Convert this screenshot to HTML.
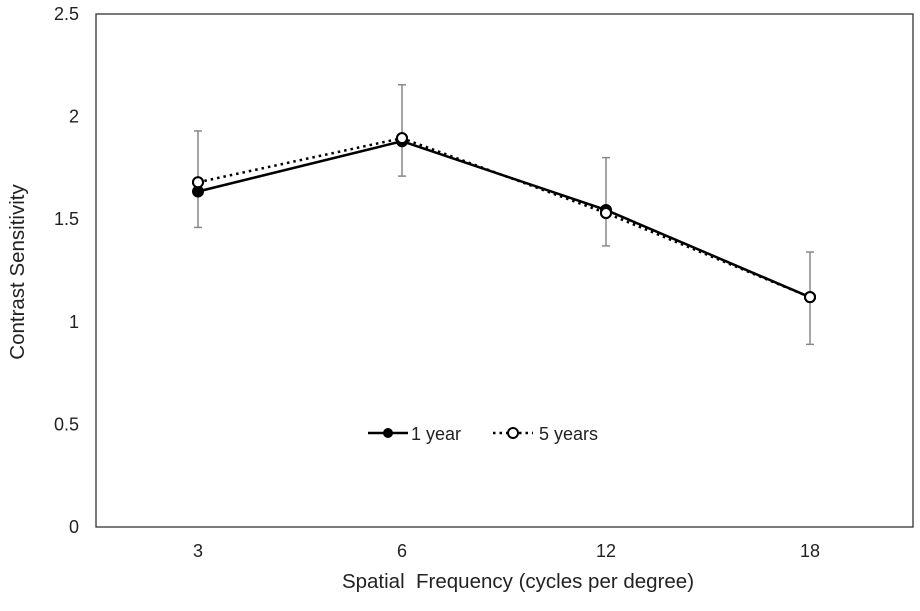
<!DOCTYPE html>
<html><head><meta charset="utf-8"><style>
html,body{margin:0;padding:0;background:#fff;}
svg text{font-family:"Liberation Sans","DejaVu Sans",sans-serif;fill:#222;}
</style></head><body>
<svg id="chart" width="920" height="606" viewBox="0 0 920 606" xmlns="http://www.w3.org/2000/svg">
<rect x="96" y="14" width="817" height="513" fill="none" stroke="#333" stroke-width="1.3"/>
<g id="yticks"></g><g id="xticks"></g><g id="errs"></g><g id="series"></g>
<text x="24" y="272" font-size="20.5" text-anchor="middle" transform="rotate(-90 24 272)">Contrast Sensitivity</text>
<text x="518" y="588" font-size="20.5" text-anchor="middle">Spatial&#160; Frequency (cycles per degree)</text>
<g>
<g>
<line x1="368" y1="433" x2="408" y2="433" stroke="#000" stroke-width="2.5"/>
<circle cx="388" cy="433" r="5" fill="#000"/>
<text x="411" y="440" font-size="18">1 year</text></g>
<g>
<line x1="493" y1="433" x2="533" y2="433" stroke="#000" stroke-width="2.5" stroke-dasharray="2.5,4"/>
<circle cx="513" cy="433" r="5" fill="#fff" stroke="#000" stroke-width="2"/>
<text x="539" y="440" font-size="18">5 years</text></g>
</g>
</svg>
<script>
const categories=["3","6","12","18"];
const oneYear=[1.635,1.88,1.545,1.12];
const fiveYears=[1.68,1.895,1.53,1.12];
const errTop=[1.93,2.155,1.80,1.34];
const errBottom=[1.46,1.71,1.37,0.89];
const yTickLabels=["0","0.5","1","1.5","2","2.5"];
const yTickValues=[0,0.5,1,1.5,2,2.5];
const NS="http://www.w3.org/2000/svg";
const x0=96,bw=204,yb=527,ypu=205.2;
const xs=i=>x0+bw*(i+0.5);
const ys=v=>yb-v*ypu;
function mk(tag,attrs,parent,txt){const e=document.createElementNS(NS,tag);for(const k in attrs)e.setAttribute(k,attrs[k]);if(txt!==undefined)e.textContent=txt;document.getElementById(parent).appendChild(e);return e;}
yTickValues.forEach((v,i)=>{const t=mk("text",{x:79,y:ys(v)+6,"font-size":18,"text-anchor":"end"},"yticks",yTickLabels[i]);

});
categories.forEach((c,i)=>{const t=mk("text",{x:xs(i),y:557,"font-size":18,"text-anchor":"middle"},"xticks",c);


const l=mk("line",{x1:xs(i),x2:xs(i),y1:ys(errTop[i]),y2:ys(errBottom[i]),stroke:"#888","stroke-width":1.5},"errs");


[errTop[i],errBottom[i]].forEach(v=>{const cap=mk("line",{x1:xs(i)-4,x2:xs(i)+4,y1:ys(v),y2:ys(v),stroke:"#888","stroke-width":1.5},"errs");

});});
function series(vals,name,dash,filled){
const p=mk("polyline",{points:vals.map((v,i)=>xs(i)+","+ys(v)).join(" "),fill:"none",stroke:"#000","stroke-width":2.5,"stroke-dasharray":dash},"series");


vals.forEach((v,i)=>{const c=mk("circle",{cx:xs(i),cy:ys(v),r:5,fill:filled?"#000":"#fff",stroke:"#000","stroke-width":2},"series");

});}
series(fiveYears,"five-years","2.5,4",false);
series(oneYear,"one-year","none",true);
fiveYears.forEach((v,i)=>{const c=mk("circle",{cx:xs(i),cy:ys(v),r:5,fill:"#fff",stroke:"#000","stroke-width":2},"series");

});
</script>
</body></html>
